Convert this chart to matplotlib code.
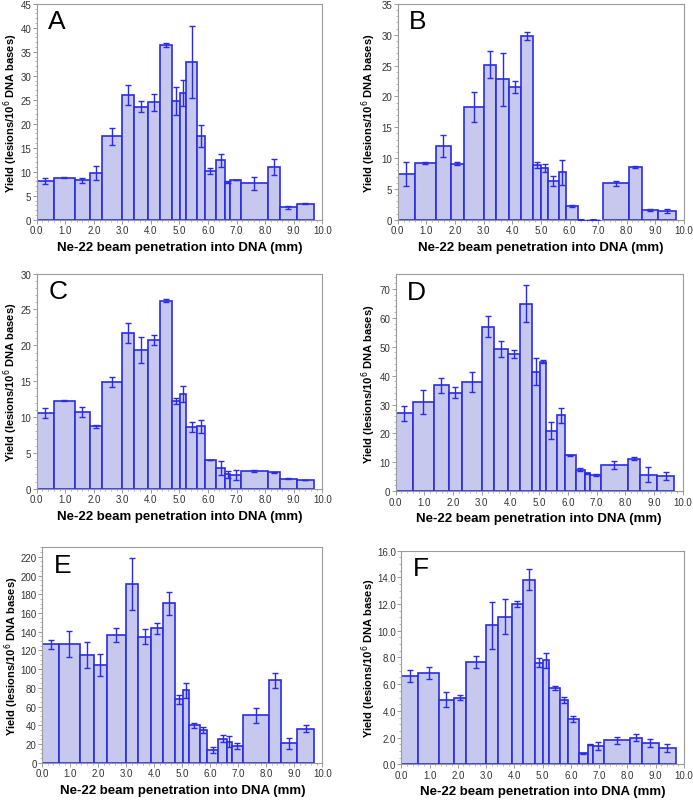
import numpy as np
import matplotlib.pyplot as plt
from matplotlib.ticker import MultipleLocator, FormatStrFormatter

# shared bin edges (mm)
edges = [0.0, 0.6, 1.33, 1.85, 2.3, 3.0, 3.42, 3.9, 4.32, 4.74, 5.02, 5.24,
         5.62, 5.89, 6.28, 6.6, 6.77, 7.16, 8.09, 8.52, 9.1, 9.71]

yield_a = [8.1, 8.8, 8.2, 9.8, 17.4, 26.0, 23.6, 24.5, 36.4, 24.7, 26.5,
           32.8, 17.4, 10.1, 12.4, 7.9, 8.3, 7.6, 11.0, 2.6, 3.4]
err_a = [0.6, 0.15, 0.6, 1.5, 1.8, 2.0, 1.1, 1.8, 0.5, 2.9, 2.7,
         7.5, 2.3, 0.6, 1.3, 0.2, 0.0, 1.3, 1.7, 0.3, 0.1]

yield_b = [7.4, 9.25, 12.0, 9.1, 18.3, 25.1, 22.8, 21.5, 29.8, 8.9, 8.4,
           6.3, 7.7, 2.3, 0.0, 0.0, 0.0, 5.95, 8.55, 1.6, 1.4]
err_b = [2.0, 0.15, 1.8, 0.2, 2.4, 2.2, 4.3, 1.0, 0.7, 0.5, 0.6,
         0.8, 2.0, 0.15, 0.0, 0.0, 0.0, 0.4, 0.1, 0.2, 0.35]

yield_c = [10.6, 12.3, 10.65, 8.74, 14.9, 21.7, 19.3, 20.8, 26.2, 12.2, 13.2,
           8.6, 8.7, 4.0, 2.9, 2.0, 1.9, 2.5, 2.3, 1.4, 1.3]
err_c = [0.7, 0.1, 0.7, 0.2, 0.7, 1.4, 1.8, 0.7, 0.2, 0.4, 1.1,
         0.7, 0.9, 0.0, 1.0, 0.5, 0.7, 0.15, 0.1, 0.05, 0.0]

yield_d = [27.0, 30.9, 36.7, 34.1, 37.8, 56.9, 49.3, 47.5, 64.9, 41.4, 44.8,
           21.0, 26.3, 12.4, 7.5, 6.2, 5.7, 9.2, 11.3, 5.7, 5.3]
err_d = [2.6, 4.2, 2.6, 1.9, 3.4, 3.7, 2.7, 1.5, 6.3, 4.8, 0.5,
         3.0, 2.6, 0.3, 0.6, 0.2, 0.3, 1.4, 0.5, 2.6, 1.5]

yield_e = [126.5, 126.5, 115.2, 104.6, 136.4, 191.0, 134.6, 143.5, 170.3, 67.5, 77.4,
           39.9, 35.0, 13.8, 25.8, 22.6, 18.0, 50.5, 88.0, 20.8, 36.4]
err_e = [5.0, 14.0, 14.0, 12.0, 7.0, 27.5, 8.0, 6.0, 12.0, 5.0, 8.0,
         3.0, 3.0, 3.0, 4.0, 6.0, 3.5, 8.0, 8.0, 6.0, 4.0]

yield_f = [6.62, 6.84, 4.85, 5.0, 7.67, 10.42, 11.06, 12.0, 13.83, 7.6, 7.79,
           5.72, 4.82, 3.39, 0.83, 1.46, 1.36, 1.8, 2.0, 1.56, 1.19]
err_f = [0.45, 0.45, 0.55, 0.2, 0.45, 1.75, 1.3, 0.2, 0.8, 0.35, 0.55,
         0.15, 0.2, 0.25, 0.05, 0.05, 0.3, 0.25, 0.25, 0.3, 0.3]

# letter, values, errors, ymax, major step, minor step, format, axes rect, ylabel offset (px)
panels = [
    ("A", yield_a, err_a, 45, 5, 1, "%d", [0.053, 0.725, 0.412, 0.269], 26),
    ("B", yield_b, err_b, 35, 5, 1, "%d", [0.574, 0.725, 0.413, 0.269], 29),
    ("C", yield_c, err_c, 30, 5, 1, "%d", [0.053, 0.390, 0.412, 0.268], 26),
    ("D", yield_d, err_d, 75, 10, 2, "%d", [0.571, 0.387, 0.414, 0.270], 27),
    ("E", yield_e, err_e, 230, 20, 5, "%d", [0.061, 0.049, 0.404, 0.268], 31),
    ("F", yield_f, err_f, 16, 2, 0.5, "%.1f", [0.579, 0.047, 0.408, 0.266], 33),
]

plt.rcParams['font.family'] = ['Liberation Sans', 'DejaVu Sans']

edge_col = '#2b2be6'
fill_col = '#c6c8ee'
grey = '#9a9a9a'

W, H = 6.93, 8.03
fig = plt.figure(figsize=(W, H), dpi=100)
e = np.array(edges)
widths = np.diff(e)
centers = e[:-1] + widths / 2

for letter, vals, errs, ytop, ymaj, ymin, fmt, pos, yoff in panels:
    ax = fig.add_axes(pos)
    bars = ax.bar(e[:-1], vals, width=widths, align='edge', color=fill_col,
                  edgecolor=edge_col, linewidth=1.2, zorder=2)
    empty = [i for i, v in enumerate(vals) if v == 0]
    for i in empty:
        bars[i].set_linewidth(0)
    if empty:
        # empty bins drawn as dashed line on baseline
        ax.plot([e[empty[0]], e[empty[-1] + 1]], [0, 0], color=edge_col, lw=1.5,
                ls=(0, (3, 3)), zorder=3, clip_on=False)
    ax.errorbar(centers, vals, yerr=errs, fmt='none', ecolor=edge_col,
                elinewidth=1.0, capsize=2.2, capthick=1.0, zorder=3)
    ax.set_xlim(0, 10)
    ax.set_ylim(0, ytop)
    ax.xaxis.set_major_locator(MultipleLocator(1))
    ax.xaxis.set_minor_locator(MultipleLocator(0.2))
    ax.xaxis.set_major_formatter(FormatStrFormatter("%.1f"))
    ax.yaxis.set_major_locator(MultipleLocator(ymaj))
    ax.yaxis.set_minor_locator(MultipleLocator(ymin))
    ax.yaxis.set_major_formatter(FormatStrFormatter(fmt))
    for s in ax.spines.values():
        s.set_color(grey)
        s.set_linewidth(0.8)
    ax.tick_params(which='major', direction='out', length=3, width=0.7,
                   color=grey, labelsize=7, labelcolor='#333333', pad=1)
    ax.tick_params(which='minor', direction='out', length=1.5, width=0.5,
                   color=grey)
    ax.set_xlabel("Ne-22 beam penetration into DNA (mm)", fontsize=9.5,
                  fontweight='bold', labelpad=4)
    ax.set_ylabel("Yield (lesions/10$^{6}$ DNA bases)", fontsize=8.0,
                  fontweight='bold', va='center')
    ax.yaxis.set_label_coords(-yoff / (pos[2] * W * 100), 0.5)
    ax.text(0.04, 0.975, letter, transform=ax.transAxes, fontsize=19,
            va='top', ha='left', color='black')

fig.savefig("out.png", dpi=100)
